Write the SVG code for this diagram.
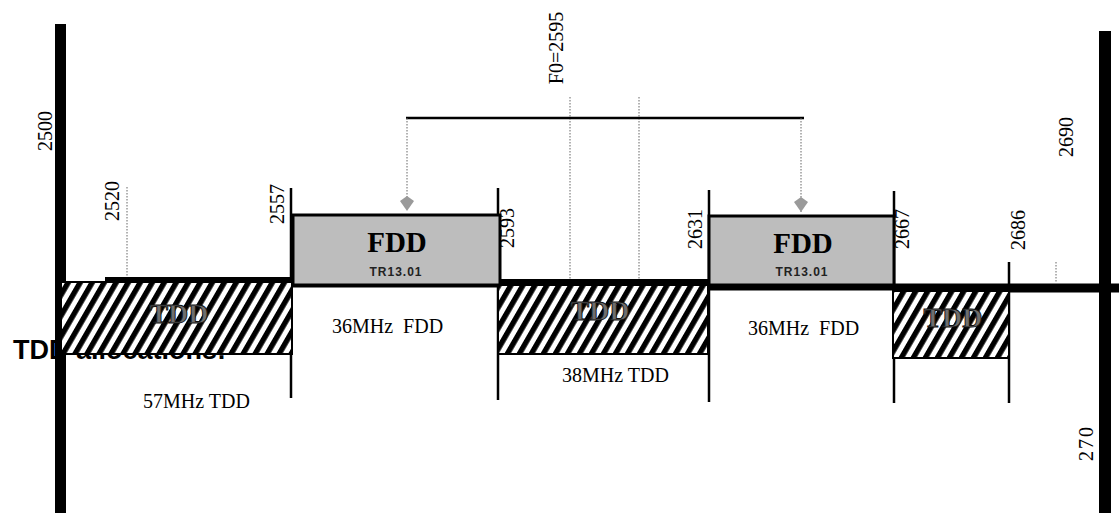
<svg xmlns="http://www.w3.org/2000/svg" width="1119" height="515" viewBox="0 0 1119 515">
  <defs>
    <pattern id="hatch" patternUnits="userSpaceOnUse" width="10.4" height="20" patternTransform="rotate(30)">
      <rect x="0" y="0" width="10.4" height="20" fill="#fff"/>
      <rect x="0" y="0" width="5.4" height="20" fill="#000"/>
    </pattern>
    <marker id="arr" viewBox="0 0 14 15" refX="7" refY="15" markerWidth="14" markerHeight="15" markerUnits="userSpaceOnUse" orient="0">
      <path d="M7,0 L14,5 L7,15 L0,5 Z" fill="#9a9a9a"/>
    </marker>
    <style>
      .lbl{font-family:"Liberation Serif","Times New Roman",serif;font-size:20px;fill:#000}
      .rot{text-anchor:middle}
      .band{font-family:"Liberation Serif","Times New Roman",serif;font-size:20px;fill:#000;white-space:pre}
      .tddtxt{font-family:"Liberation Serif","Times New Roman",serif;font-size:28px;font-weight:bold;fill:#6e6e6e;stroke:#111;stroke-width:0.9;text-anchor:middle}
      .fddtxt{font-family:"Liberation Serif","Times New Roman",serif;font-size:29px;font-weight:bold;fill:#000;text-anchor:middle}
      .tr{font-family:"Liberation Sans",Arial,sans-serif;font-size:12px;font-weight:bold;fill:#222;text-anchor:middle;letter-spacing:1px}
      .tddbox{fill:url(#hatch);stroke:#000;stroke-width:2}
      .fddbox{fill:#bdbdbd;stroke:#000;stroke-width:3}
      .tick{stroke:#000;stroke-width:2.5;fill:none}
      .dot{stroke:#666;stroke-width:1;stroke-dasharray:1.5 1.5;fill:none}
      .thick{stroke:#000;fill:none}
      .bar{fill:#000}
    </style>
  </defs>

  <!-- background title partially hidden -->
  <text x="13" y="359" font-family="'Liberation Sans',Arial,sans-serif" font-size="27" font-weight="bold" fill="#000">TDD allocations:</text>

  <!-- frequency labels (rotated) -->
  <g id="labels">
    <text class="lbl rot" transform="translate(52,131) rotate(-90)">2500</text>
    <text class="lbl rot" transform="translate(119,201) rotate(-90)">2520</text>
    <text class="lbl rot" transform="translate(284,204) rotate(-90)">2557</text>
    <text class="lbl rot" transform="translate(514,228) rotate(-90)">2593</text>
    <text class="lbl rot" transform="translate(702,229) rotate(-90)">2631</text>
    <text class="lbl rot" transform="translate(909,229) rotate(-90)">2667</text>
    <text class="lbl rot" transform="translate(1025,230) rotate(-90)">2686</text>
    <text class="lbl rot" transform="translate(1073,137) rotate(-90)">2690</text>
    <text class="lbl rot" transform="translate(563,48) rotate(-90)">F0=2595</text>
    <text class="lbl rot" font-size="22" letter-spacing="2" transform="translate(1093,443) rotate(-90)">270</text>
  </g>

  <!-- dotted reference lines -->
  <g id="guides">
    <line class="dot" x1="127" y1="187" x2="127" y2="277"/>
    <line class="dot" x1="570" y1="97" x2="570" y2="280"/>
    <line class="dot" x1="639" y1="97" x2="639" y2="280"/>
    <line class="dot" x1="1056" y1="262" x2="1056" y2="283"/>
  </g>

  <!-- axis bars -->
  <g id="axis-left"><rect class="bar" x="55" y="24" width="11" height="489"/></g>
  <g id="axis-right"><rect class="bar" x="1099" y="31" width="12" height="482"/></g>

  <!-- spectrum baseline segments -->
  <g id="baseline">
    <line class="thick" stroke-width="5" x1="105" y1="279.5" x2="293" y2="279.5"/>
    <line class="thick" stroke-width="5" x1="293" y1="285" x2="500" y2="285"/>
    <line class="thick" stroke-width="6" x1="498" y1="282" x2="708" y2="282"/>
    <line class="thick" stroke-width="7" x1="708" y1="287" x2="894" y2="287"/>
    <line class="thick" stroke-width="9" x1="894" y1="288" x2="1119" y2="288"/>
  </g>

  <!-- boundary ticks -->
  <g id="ticks">
    <line class="tick" x1="291" y1="188" x2="291" y2="398"/>
    <line class="tick" x1="498" y1="188" x2="498" y2="400"/>
    <line class="tick" x1="709" y1="190" x2="709" y2="402"/>
    <line class="tick" x1="894" y1="191" x2="894" y2="403"/>
    <line class="tick" x1="1009" y1="262" x2="1009" y2="403"/>
  </g>

  <g id="tdd1">
    <rect class="tddbox" x="61" y="282" width="231" height="72"/>
    <text class="tddtxt" x="179" y="323">TDD</text>
  </g>
  <g id="fdd1">
    <rect class="fddbox" x="293" y="215" width="207" height="70"/>
    <text class="fddtxt" x="397" y="252">FDD</text>
    <text class="tr" x="396" y="276">TR13.01</text>
  </g>
  <g id="tdd2">
    <rect class="tddbox" x="498" y="285" width="210" height="69"/>
    <text class="tddtxt" x="600" y="320">TDD</text>
  </g>
  <g id="fdd2">
    <rect class="fddbox" x="709" y="216" width="185" height="69"/>
    <text class="fddtxt" x="803" y="253">FDD</text>
    <text class="tr" x="802" y="276">TR13.01</text>
  </g>
  <g id="tdd3">
    <rect class="tddbox" x="893" y="291" width="116" height="67"/>
    <text class="tddtxt" x="953" y="327">TDD</text>
  </g>

  <!-- bandwidth labels -->
  <g id="bandwidths">
    <text class="band" x="332" y="333">36MHz  FDD</text>
    <text class="band" x="748" y="335">36MHz  FDD</text>
    <text class="band" x="562" y="382">38MHz TDD</text>
    <text class="band" x="143" y="408" font-size="23">57MHz TDD</text>
  </g>

  <!-- duplex pairing connector -->
  <g id="connectors">
    <line stroke="#000" stroke-width="2.5" x1="406" y1="118" x2="804" y2="118"/>
    <line class="dot" stroke="#888" x1="407" y1="118" x2="407" y2="211" marker-end="url(#arr)"/>
    <line class="dot" stroke="#888" x1="801" y1="118" x2="801" y2="212" marker-end="url(#arr)"/>
  </g>
</svg>
